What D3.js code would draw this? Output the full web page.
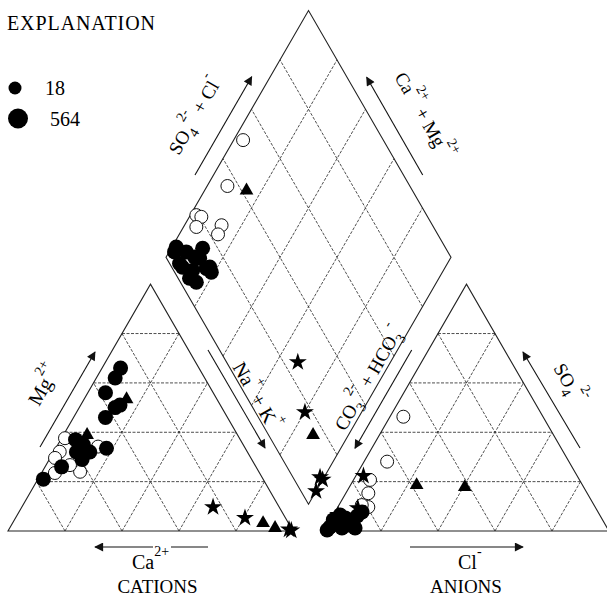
<!DOCTYPE html>
<html>
<head>
<meta charset="utf-8">
<script src="https://cdn.jsdelivr.net/npm/d3@7"></script>
<style>
  body { margin: 0; background: #fff; }
  svg { display: block; }
  text { font-family: "Liberation Serif", "Times New Roman", serif; fill: #000; white-space: pre; }
</style>
</head>
<body>
<div id="chart"></div>
<script>
// cation triangle, each point is [Mg %, Na+K %]
const catOpen = [[37.6, 1.2], [32.1, 2.1], [29.6, 1.7], [23.5, 4.7], [24, 13.3], [34.2, 14.5], [26.7, 8.4]];
const catFilled = [[66, 6.5], [62, 6.6], [56, 6.2], [51, 13.8], [50, 12.6], [46, 11.2], [37, 5.2], [35, 8.9],
                   [32, 12.7], [33.5, 17.8], [32, 8], [29, 11.5], [26, 5.8], [21, 1.9]];
const catTri = [[53.8, 14.7], [39.3, 8.1], [3.6, 87.7], [1.6, 92.9]];
const catStar = [[9.7, 67.1], [5.3, 80.5], [0.6, 98.3], [0.2, 99.3]];

// anion triangle, each point is [SO4 %, Cl %]
const anOpen = [[46.3, 4.7], [28.1, 8.1], [20.7, 5.8], [15.3, 7.9], [9.7, 10.7], [10.5, 8]];
const anFilled = [[1.6, 1.3], [3.2, 2.6], [1.2, 5.7], [2.4, 7.2], [5.3, 4.8], [4.1, 7.8], [6.1, 8.6],
                  [7.7, 9.5], [6.5, 2.4], [4.5, 1.0], [1.2, 10.3], [0.4, 0.9]];
const anTri = [[19, 23], [18.2, 40.3]];
const anStar = [[22.3, 2.7], [6.5, 1.7], [9.3, 7.2]];

// diamond, each point is [SO4+Cl %, Ca+Mg %]
const diaOpen = [[50.8, 96.7], [36, 92.9], [19.2, 97.9], [20.6, 95.8], [16.8, 95.5], [26, 87], [22.9, 86.4]];
const diaFilled = [[4.1, 98.1], [14.7, 89], [10.1, 90], [3.5, 94], [6.7, 88], [11.9, 83.6], [12.9, 81.1],
                   [5.6, 84.3], [4, 87.5], [3.8, 92.2], [8.2, 94], [5.7, 98.5], [11.6, 88], [13.4, 82.7]];
const diaTri = [[42, 85.5], [15.8, 12.6]];
const diaStar = [[25, 32.5], [17.4, 19.9], [9.5, 1.4], [9.9, 0], [5.3, 0]];

const gridTicks = [20, 40, 60, 80];
const legendLabels = ["18", "564"];

const width = 607, height = 597;
const S = 285, SIN = Math.sqrt(3) / 2;
const catO = [8, 531], anO = [324, 531];
const pct = d3.scaleLinear().domain([0, 100]).range([0, S]);
const gap = anO[0] - catO[0] - S;
const base = [catO[0] + S + gap / 2, catO[1] - gap / 2 * Math.sqrt(3)];

const cation = ([mg, nak]) => [catO[0] + pct(nak) + pct(mg) / 2, catO[1] - pct(mg) * SIN];
const anion = ([so4, cl]) => [anO[0] + pct(cl) + pct(so4) / 2, anO[1] - pct(so4) * SIN];
const diamond = ([u, v]) => [base[0] + (pct(u) - pct(v)) / 2, base[1] - (pct(u) + pct(v)) * SIN];

const svg = d3.select("#chart").append("svg")
    .attr("width", width).attr("height", height);

svg.append("defs").append("marker")
    .attr("id", "head").attr("viewBox", "0 0 10 10")
    .attr("refX", 9).attr("refY", 5)
    .attr("markerWidth", 10).attr("markerHeight", 9)
    .attr("markerUnits", "userSpaceOnUse")
    .attr("orient", "auto")
    .append("path").attr("d", "M0,0L10,5L0,10Z").attr("fill", "#111");

const line = d3.line();
const grid = svg.append("g").attr("fill", "none").attr("stroke", "#222")
    .attr("stroke-width", 0.8).attr("stroke-dasharray", "3,1.5");
const frame = svg.append("g").attr("fill", "none").attr("stroke", "#222").attr("stroke-width", 1.1);

// grid lines of the two triangles
[cation, anion].forEach(f => {
    gridTicks.forEach(t => {
        grid.append("path").attr("d", line([f([t, 0]), f([t, 100 - t])]));
        grid.append("path").attr("d", line([f([0, t]), f([100 - t, t])]));
        grid.append("path").attr("d", line([f([0, 100 - t]), f([100 - t, 0])]));
    });
    frame.append("path").attr("d", line([f([0, 0]), f([0, 100]), f([100, 0])]) + "Z");
});
// diamond
gridTicks.forEach(t => {
    grid.append("path").attr("d", line([diamond([t, 0]), diamond([t, 100])]));
    grid.append("path").attr("d", line([diamond([0, t]), diamond([100, t])]));
});
frame.append("path").attr("d", line([diamond([0, 0]), diamond([100, 0]), diamond([100, 100]), diamond([0, 100])]) + "Z");

// markers
const sym = (type, size) => d3.symbol().type(type).size(size)();
function drawPoints(pts, f, kind) {
    const g = svg.append("g");
    pts.forEach(p => {
        const [x, y] = f(p);
        if (kind === "open") {
            g.append("circle").attr("cx", x).attr("cy", y).attr("r", 6.5)
                .attr("fill", "#fff").attr("stroke", "#111").attr("stroke-width", 1);
        } else if (kind === "filled") {
            g.append("circle").attr("cx", x).attr("cy", y).attr("r", 7.5).attr("fill", "#000");
        } else if (kind === "tri") {
            g.append("path").attr("d", sym(d3.symbolTriangle, 82))
                .attr("transform", `translate(${x},${y + 1})`).attr("fill", "#000");
        } else {
            g.append("path").attr("d", sym(d3.symbolStar, 100))
                .attr("transform", `translate(${x},${y})`).attr("fill", "#000");
        }
    });
}
drawPoints(catOpen, cation, "open");
drawPoints(catFilled, cation, "filled");
drawPoints(anOpen, anion, "open");
drawPoints(anFilled, anion, "filled");
drawPoints(diaOpen, diamond, "open");
drawPoints(diaFilled, diamond, "filled");
drawPoints(catTri, cation, "tri");
drawPoints(anTri, anion, "tri");
drawPoints(diaTri, diamond, "tri");
drawPoints(catStar, cation, "star");
drawPoints(anStar, anion, "star");
drawPoints(diaStar, diamond, "star");

// rotated labels with super/subscripts
function label(x, y, angle, parts, size, anchor) {
    const t = svg.append("text")
        .attr("transform", `translate(${x},${y}) rotate(${angle})`)
        .attr("text-anchor", anchor || "start")
        .style("font-size", size + "px");
    let shift = 0;
    parts.forEach(([s, k]) => {
        const target = k === "sup" ? -13 : k === "sub" ? 6 : 0;
        t.append("tspan").attr("dy", target - shift)
            .style("font-size", k ? "14px" : size + "px").text(s);
        shift = target;
    });
}
function arrow(x1, y1, x2, y2, head) {
    const p = svg.append("line").attr("x1", x1).attr("y1", y1).attr("x2", x2).attr("y2", y2)
        .attr("stroke", "#111").attr("stroke-width", 1.1);
    if (head !== false) p.attr("marker-end", "url(#head)");
}

arrow(40, 447, 95, 352);
label(39, 407, -60, [["Mg"], ["2+", "sup"]], 20);

arrow(208, 350, 265, 448);
label(232, 367, 60, [["Na"], ["+", "sup"], [" + "], ["K"], ["+", "sup"]], 20);

arrow(153, 547, 95, 547);
arrow(171, 547, 208, 547, false);
label(132, 569, 0, [["Ca"], ["2+", "sup"]], 20);
label(157.5, 593, 0, [["CATIONS"]], 19, "middle");

arrow(195, 175, 251.7, 76.7);
label(179, 156, -60, [["SO"], ["4", "sub"], ["2-", "sup"], [" + "], ["Cl"], ["-", "sup"]], 19);

arrow(422.7, 175, 366.7, 77.3);
label(394, 77, 60, [["Ca"], ["2+", "sup"], [" + "], ["Mg"], ["2+", "sup"]], 19);

arrow(411.7, 350, 355, 448.3);
label(345, 432, -60, [["CO"], ["3", "sub"], ["2-", "sup"], [" + "], ["HCO"], ["3", "sub"], ["-", "sup"]], 19);

arrow(580, 448, 523, 352);
label(553, 368, 60, [["SO"], ["4", "sub"], ["2-", "sup"]], 19);

arrow(410, 547, 523, 547);
label(458, 569, 0, [["Cl"], ["-", "sup"]], 20);
label(466, 593, 0, [["ANIONS"]], 19, "middle");

// legend
svg.append("text").attr("x", 7).attr("y", 30).style("font-size", "20px")
    .attr("textLength", 148).text("EXPLANATION");
const legR = [6.5, 10];
legendLabels.forEach((d, i) => {
    const cy = [88, 118.5][i];
    svg.append("circle").attr("cx", [15, 18][i]).attr("cy", cy).attr("r", legR[i]).attr("fill", "#000");
    svg.append("text").attr("x", [45, 50][i]).attr("y", cy + 7).style("font-size", "20px").text(d);
});
</script>
</body>
</html>
